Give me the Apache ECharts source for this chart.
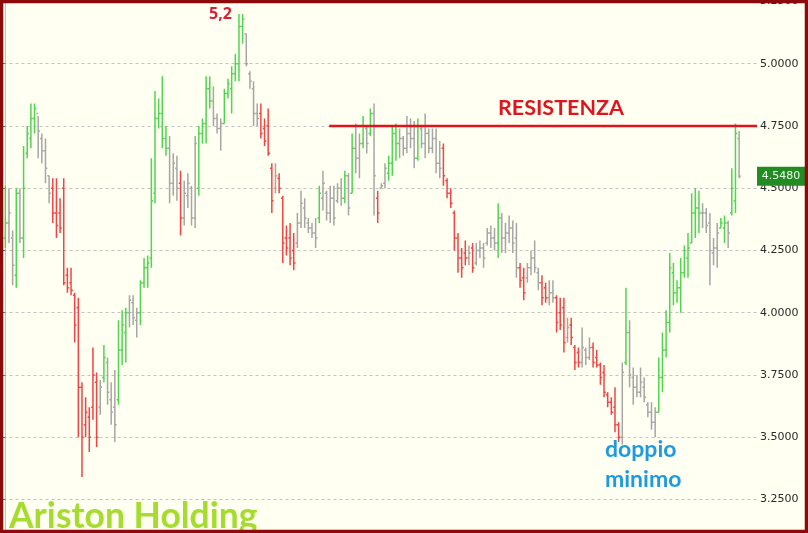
<!DOCTYPE html>
<html><head><meta charset="utf-8">
<script src="https://cdn.jsdelivr.net/npm/echarts@6/dist/echarts.min.js"></script>
<style>html,body{margin:0;padding:0;background:#fffff2;overflow:hidden;width:808px;height:533px;position:relative}#c{position:absolute;left:0;top:-4px;width:808px;height:600px}</style>
</head><body><div id="c"></div>
<script>
// ---- DATA ----
const opens = [4.30,4.36,4.30,4.15,4.48,4.30,4.64,4.70,4.78,4.80,4.70,4.65,4.55,4.50,4.40,4.40,4.50,4.15,4.12,4.07,4.02,3.70,3.55,3.58,3.62,3.72,3.62,3.74,3.80,3.65,3.62,3.65,3.85,3.92,4.00,4.04,3.97,4.00,4.12,4.18,4.22,4.48,4.78,4.80,4.70,4.66,4.52,4.58,4.52,4.38,4.47,4.50,4.38,4.50,4.72,4.76,4.90,4.85,4.78,4.74,4.76,4.88,4.90,4.96,5.00,5.15,5.12,4.96,
4.90,4.80,4.80,4.74,4.75,4.58,4.50,4.54,4.46,4.30,4.30,4.25,4.28,4.36,4.42,4.36,4.34,4.32,4.38,4.46,4.48,4.40,4.46,4.45,4.50,4.46,4.55,4.48,4.66,4.62,4.68,4.74,4.72,4.80,4.46,4.50,4.52,4.56,4.60,4.72,4.68,4.70,4.66,4.72,4.70,4.62,4.74,4.68,4.72,4.66,4.70,4.60,4.66,4.53,4.48,4.40,4.30,4.22,4.24,4.22,4.26,4.20,4.25,4.26,4.28,4.32,4.30,
4.28,4.38,4.30,4.32,4.34,4.30,4.18,4.14,4.14,4.18,4.22,4.16,4.12,4.10,4.06,4.08,4.06,4.00,4.02,3.90,3.95,3.86,3.84,3.80,3.85,3.82,3.86,3.82,3.79,3.76,3.67,3.64,3.62,3.55,3.50,3.80,3.92,3.74,3.70,3.68,3.70,3.63,3.60,3.56,3.60,3.74,3.85,3.96,4.16,4.08,4.10,4.16,4.22,4.28,4.40,4.42,4.40,4.40,4.36,4.24,4.26,4.34,4.34,4.36,4.40,4.45,4.70];
const highs = [4.51,4.50,4.33,4.50,4.50,4.67,4.75,4.84,4.84,4.79,4.72,4.70,4.55,4.54,4.54,4.46,4.54,4.18,4.18,4.08,4.06,3.72,3.66,3.62,3.86,3.76,3.73,3.87,3.82,3.72,3.77,3.97,4.01,4.02,4.07,4.07,4.02,4.13,4.22,4.23,4.62,4.89,4.86,4.95,4.75,4.71,4.64,4.63,4.57,4.53,4.56,4.51,4.71,4.75,4.78,4.95,4.95,4.91,4.80,4.78,4.90,4.94,4.99,5.04,5.20,5.20,5.12,4.97,
4.93,4.84,4.84,4.78,4.82,4.60,4.60,4.56,4.47,4.35,4.36,4.32,4.40,4.49,4.46,4.38,4.36,4.38,4.51,4.57,4.49,4.51,4.51,4.52,4.54,4.57,4.56,4.72,4.76,4.72,4.79,4.75,4.82,4.84,4.49,4.52,4.60,4.63,4.75,4.76,4.74,4.71,4.79,4.78,4.77,4.78,4.75,4.80,4.74,4.74,4.74,4.69,4.68,4.54,4.50,4.41,4.32,4.26,4.29,4.27,4.28,4.28,4.29,4.28,4.34,4.35,4.34,
4.44,4.40,4.36,4.39,4.37,4.36,4.20,4.18,4.20,4.25,4.29,4.18,4.15,4.12,4.13,4.13,4.07,4.06,4.06,3.98,3.98,3.87,3.86,3.94,3.86,3.90,3.88,3.85,3.80,3.79,3.68,3.66,3.70,3.56,3.80,4.10,3.97,3.78,3.75,3.78,3.74,3.64,3.64,3.62,3.82,3.92,4.01,4.24,4.20,4.13,4.22,4.27,4.32,4.48,4.50,4.49,4.44,4.42,4.40,4.30,4.36,4.38,4.39,4.37,4.58,4.76,4.73];
const lows = [4.26,4.28,4.11,4.10,4.28,4.22,4.62,4.66,4.72,4.62,4.60,4.52,4.44,4.36,4.30,4.32,4.11,4.08,4.07,3.88,3.50,3.34,3.50,3.44,3.57,3.46,3.59,3.72,3.63,3.55,3.48,3.63,3.79,3.80,3.94,3.95,3.90,3.95,4.10,4.10,4.18,4.44,4.74,4.66,4.63,4.44,4.47,4.45,4.31,4.35,4.42,4.35,4.34,4.47,4.68,4.68,4.82,4.75,4.72,4.65,4.76,4.86,4.80,4.93,4.93,5.08,4.99,4.90,
4.75,4.75,4.70,4.67,4.63,4.40,4.48,4.48,4.20,4.23,4.19,4.17,4.26,4.34,4.34,4.32,4.30,4.26,4.36,4.41,4.37,4.36,4.35,4.44,4.43,4.44,4.39,4.48,4.56,4.54,4.66,4.64,4.71,4.39,4.36,4.50,4.50,4.53,4.55,4.61,4.62,4.63,4.64,4.66,4.58,4.61,4.66,4.62,4.64,4.64,4.56,4.54,4.51,4.46,4.42,4.25,4.16,4.14,4.19,4.19,4.16,4.19,4.22,4.18,4.27,4.26,4.25,
4.22,4.24,4.24,4.28,4.24,4.14,4.10,4.05,4.12,4.15,4.16,4.09,4.03,4.04,4.03,4.04,3.92,3.93,3.84,3.88,3.87,3.77,3.78,3.78,3.79,3.81,3.78,3.78,3.71,3.66,3.62,3.59,3.52,3.48,3.47,3.79,3.70,3.63,3.66,3.66,3.64,3.58,3.53,3.50,3.60,3.68,3.82,3.92,4.03,4.04,4.00,4.14,4.14,4.28,4.30,4.32,4.34,4.32,4.11,4.19,4.18,4.34,4.28,4.26,4.39,4.40,4.54];
const closes = [4.36,4.40,4.19,4.48,4.30,4.50,4.72,4.78,4.82,4.73,4.65,4.58,4.48,4.40,4.35,4.34,4.12,4.10,4.09,3.95,3.70,3.50,3.60,3.50,3.75,3.50,3.70,3.82,3.68,3.60,3.55,3.85,3.95,4.00,4.05,3.98,4.00,4.12,4.18,4.20,4.45,4.78,4.80,4.70,4.66,4.52,4.60,4.50,4.38,4.48,4.52,4.38,4.68,4.72,4.76,4.90,4.85,4.78,4.74,4.76,4.88,4.92,4.96,5.00,5.15,5.18,5.00,4.93,
4.80,4.78,4.72,4.69,4.64,4.45,4.55,4.50,4.28,4.26,4.22,4.20,4.36,4.44,4.38,4.34,4.32,4.30,4.48,4.52,4.40,4.46,4.38,4.50,4.46,4.55,4.42,4.66,4.62,4.68,4.75,4.68,4.80,4.55,4.40,4.51,4.58,4.60,4.72,4.68,4.70,4.66,4.72,4.70,4.62,4.75,4.68,4.72,4.66,4.70,4.60,4.58,4.55,4.48,4.44,4.30,4.22,4.18,4.22,4.24,4.18,4.25,4.26,4.22,4.32,4.30,4.28,
4.38,4.30,4.32,4.34,4.28,4.18,4.13,4.08,4.18,4.22,4.18,4.12,4.06,4.06,4.08,4.06,3.96,3.95,3.88,3.94,3.90,3.80,3.80,3.86,3.82,3.86,3.80,3.79,3.74,3.68,3.64,3.60,3.55,3.50,3.76,3.92,3.75,3.70,3.68,3.72,3.66,3.60,3.56,3.60,3.74,3.85,3.96,4.18,4.08,4.10,4.16,4.25,4.26,4.40,4.42,4.40,4.40,4.35,4.25,4.26,4.32,4.36,4.36,4.32,4.50,4.72,4.548];
// trend colour class per bar: g = up (green), r = down (red), n = neutral (grey)
const trendList = [
'g','n','n','g','n','g','g','g','g','n','n','n','n','r','r','r','r','r','r','r','r','r','r','r','r','r','n','g','n','n','n','g','g','g','n','n','n','g','g','g','g','g','g','g','g','n','n','n','r','n','n','n','n','g','g','g','g','n','n','n','g','g','g','g','g','g','n','n',
'n','n','r','r','r','r','n','r','r','r','r','r','n','n','n','n','n','n','g','n','n','n','n','n','n','g','n','g','n','n','g','n','g','n','r','n','n','g','g','g','n','n','n','n','n','g','n','n','n','n','n','n','r','r','r','r','r','r','r','n','r','n','n','n','n','n','n',
'g','n','n','n','n','n','r','r','n','n','n','n','r','r','n','n','r','r','r','n','r','r','r','n','n','n','r','r','r','r','r','r','r','r','n','g','n','n','n','n','n','n','n','n','g','g','g','g','g','g','g','g','g','g','g','g','n','n','n','n','n','g','g','n','g','g','n'];
const yTicks = [3.0, 5.25, 0.25]; // min, max, interval
const resistanceValue = 4.75;
const resistanceFromIndex = 88.7;
const lastPrice = 4.548;
const titleText = "Ariston Holding";
const peakText = "5,2";
const resistText = "RESISTENZA";
const bottomText = ["doppio", "minimo"];
</script>
<script>
const COLORS = {g:'#50d550', r:'#f24444', n:'#a6a6a6'};
const OFF = 4; // the chart div sits 4px above the window top
const ohlcData = highs.map((_, i) => [i, opens[i], closes[i], lows[i], highs[i]]);

const chart = echarts.init(document.getElementById('c'), null, {renderer:'canvas'});
const baseGraphic = [
  { type: 'text', left: 9, top: 499 + OFF, z: 10,
    style: { text: titleText, fill: '#a6dc30', font: 'bold 35.5px Lato' } },
  { type: 'text', left: 209, top: 6 + OFF, z: 10,
    style: { text: peakText, fill: '#d8203a', font: 'bold 16px "Open Sans"' } },
  { type: 'text', left: 498, top: 97 + OFF, z: 10,
    style: { text: resistText, fill: '#e0141e', font: 'bold 21.5px Lato' } },
  { type: 'text', left: 605, top: 438 + OFF, z: 10,
    style: { text: bottomText[0], fill: '#1e9be0', font: 'bold 23px Lato' } },
  { type: 'text', left: 605, top: 468 + OFF, z: 10,
    style: { text: bottomText[1], fill: '#1e9be0', font: 'bold 23px Lato' } }
];
const option = {
  backgroundColor: '#fffff2',
  animation: false,
  grid: { left: 3.5, right: 51, top: 2.4, bottom: 34.4, containLabel: false },
  xAxis: { type: 'value', min: -0.5, max: 205.9, show: false },
  yAxis: {
    type: 'value', position: 'right', min: yTicks[0], max: yTicks[1], interval: yTicks[2],
    axisLine: { show: true, lineStyle: { color: '#c4c4c4', width: 1 } },
    axisTick: { show: true, inside: true, length: 4, lineStyle: { color: '#666' } },
    axisLabel: { formatter: v => v.toFixed(4), color: '#2a2a2a', fontSize: 11, fontFamily: 'DejaVu Sans', margin: 3 },
    splitLine: { show: true, lineStyle: { color: '#c2c2c2', type: [3, 3], width: 1 } }
  },
  series: [
    {
      type: 'custom',
      data: ohlcData,
      encode: { x: 0, y: [1, 2, 3, 4] },
      clip: true,
      renderItem: function (params, api) {
        const i = api.value(0);
        const pO = api.coord([i, api.value(1)]);
        const pC = api.coord([i, api.value(2)]);
        const pL = api.coord([i, api.value(3)]);
        const pH = api.coord([i, api.value(4)]);
        const x = pO[0];
        const col = COLORS[trendList[i]] || COLORS.n;
        const st = { stroke: col, lineWidth: 1.5 };
        return {
          type: 'group',
          children: [
            { type: 'line', shape: { x1: x, y1: pH[1], x2: x, y2: pL[1] }, style: st },
            { type: 'line', shape: { x1: x - 1.8, y1: pO[1], x2: x, y2: pO[1] }, style: st },
            { type: 'line', shape: { x1: x, y1: pC[1], x2: x + 1.8, y2: pC[1] }, style: st }
          ]
        };
      },
      z: 2
    },
    {
      type: 'line',
      data: [[resistanceFromIndex, resistanceValue], [205.9, resistanceValue]],
      symbol: 'none',
      lineStyle: { color: '#e0141e', width: 2.5 },
      z: 3
    }
  ],
  graphic: baseGraphic
};
chart.setOption(option);

// last price tag placed through the y scale
const yLast = chart.convertToPixel({ yAxisIndex: 0 }, lastPrice);
chart.setOption({
  graphic: baseGraphic.concat([
    { type: 'rect', shape: { x: 757, y: yLast - 9.5, width: 49, height: 19 }, style: { fill: '#228b22' }, z: 20 },
    { type: 'text', x: 781, y: yLast, z: 21,
      style: { text: lastPrice.toFixed(4), fill: '#e8ffe8', font: '11px "DejaVu Sans"', align: 'center', verticalAlign: 'middle' } },
    { type: 'rect', shape: { x: 1.5, y: 1.5 + OFF, width: 805, height: 530 }, style: { fill: null, stroke: '#8c0a0a', lineWidth: 3.5 }, z: 50 }
  ])
});
</script>
</body></html>
